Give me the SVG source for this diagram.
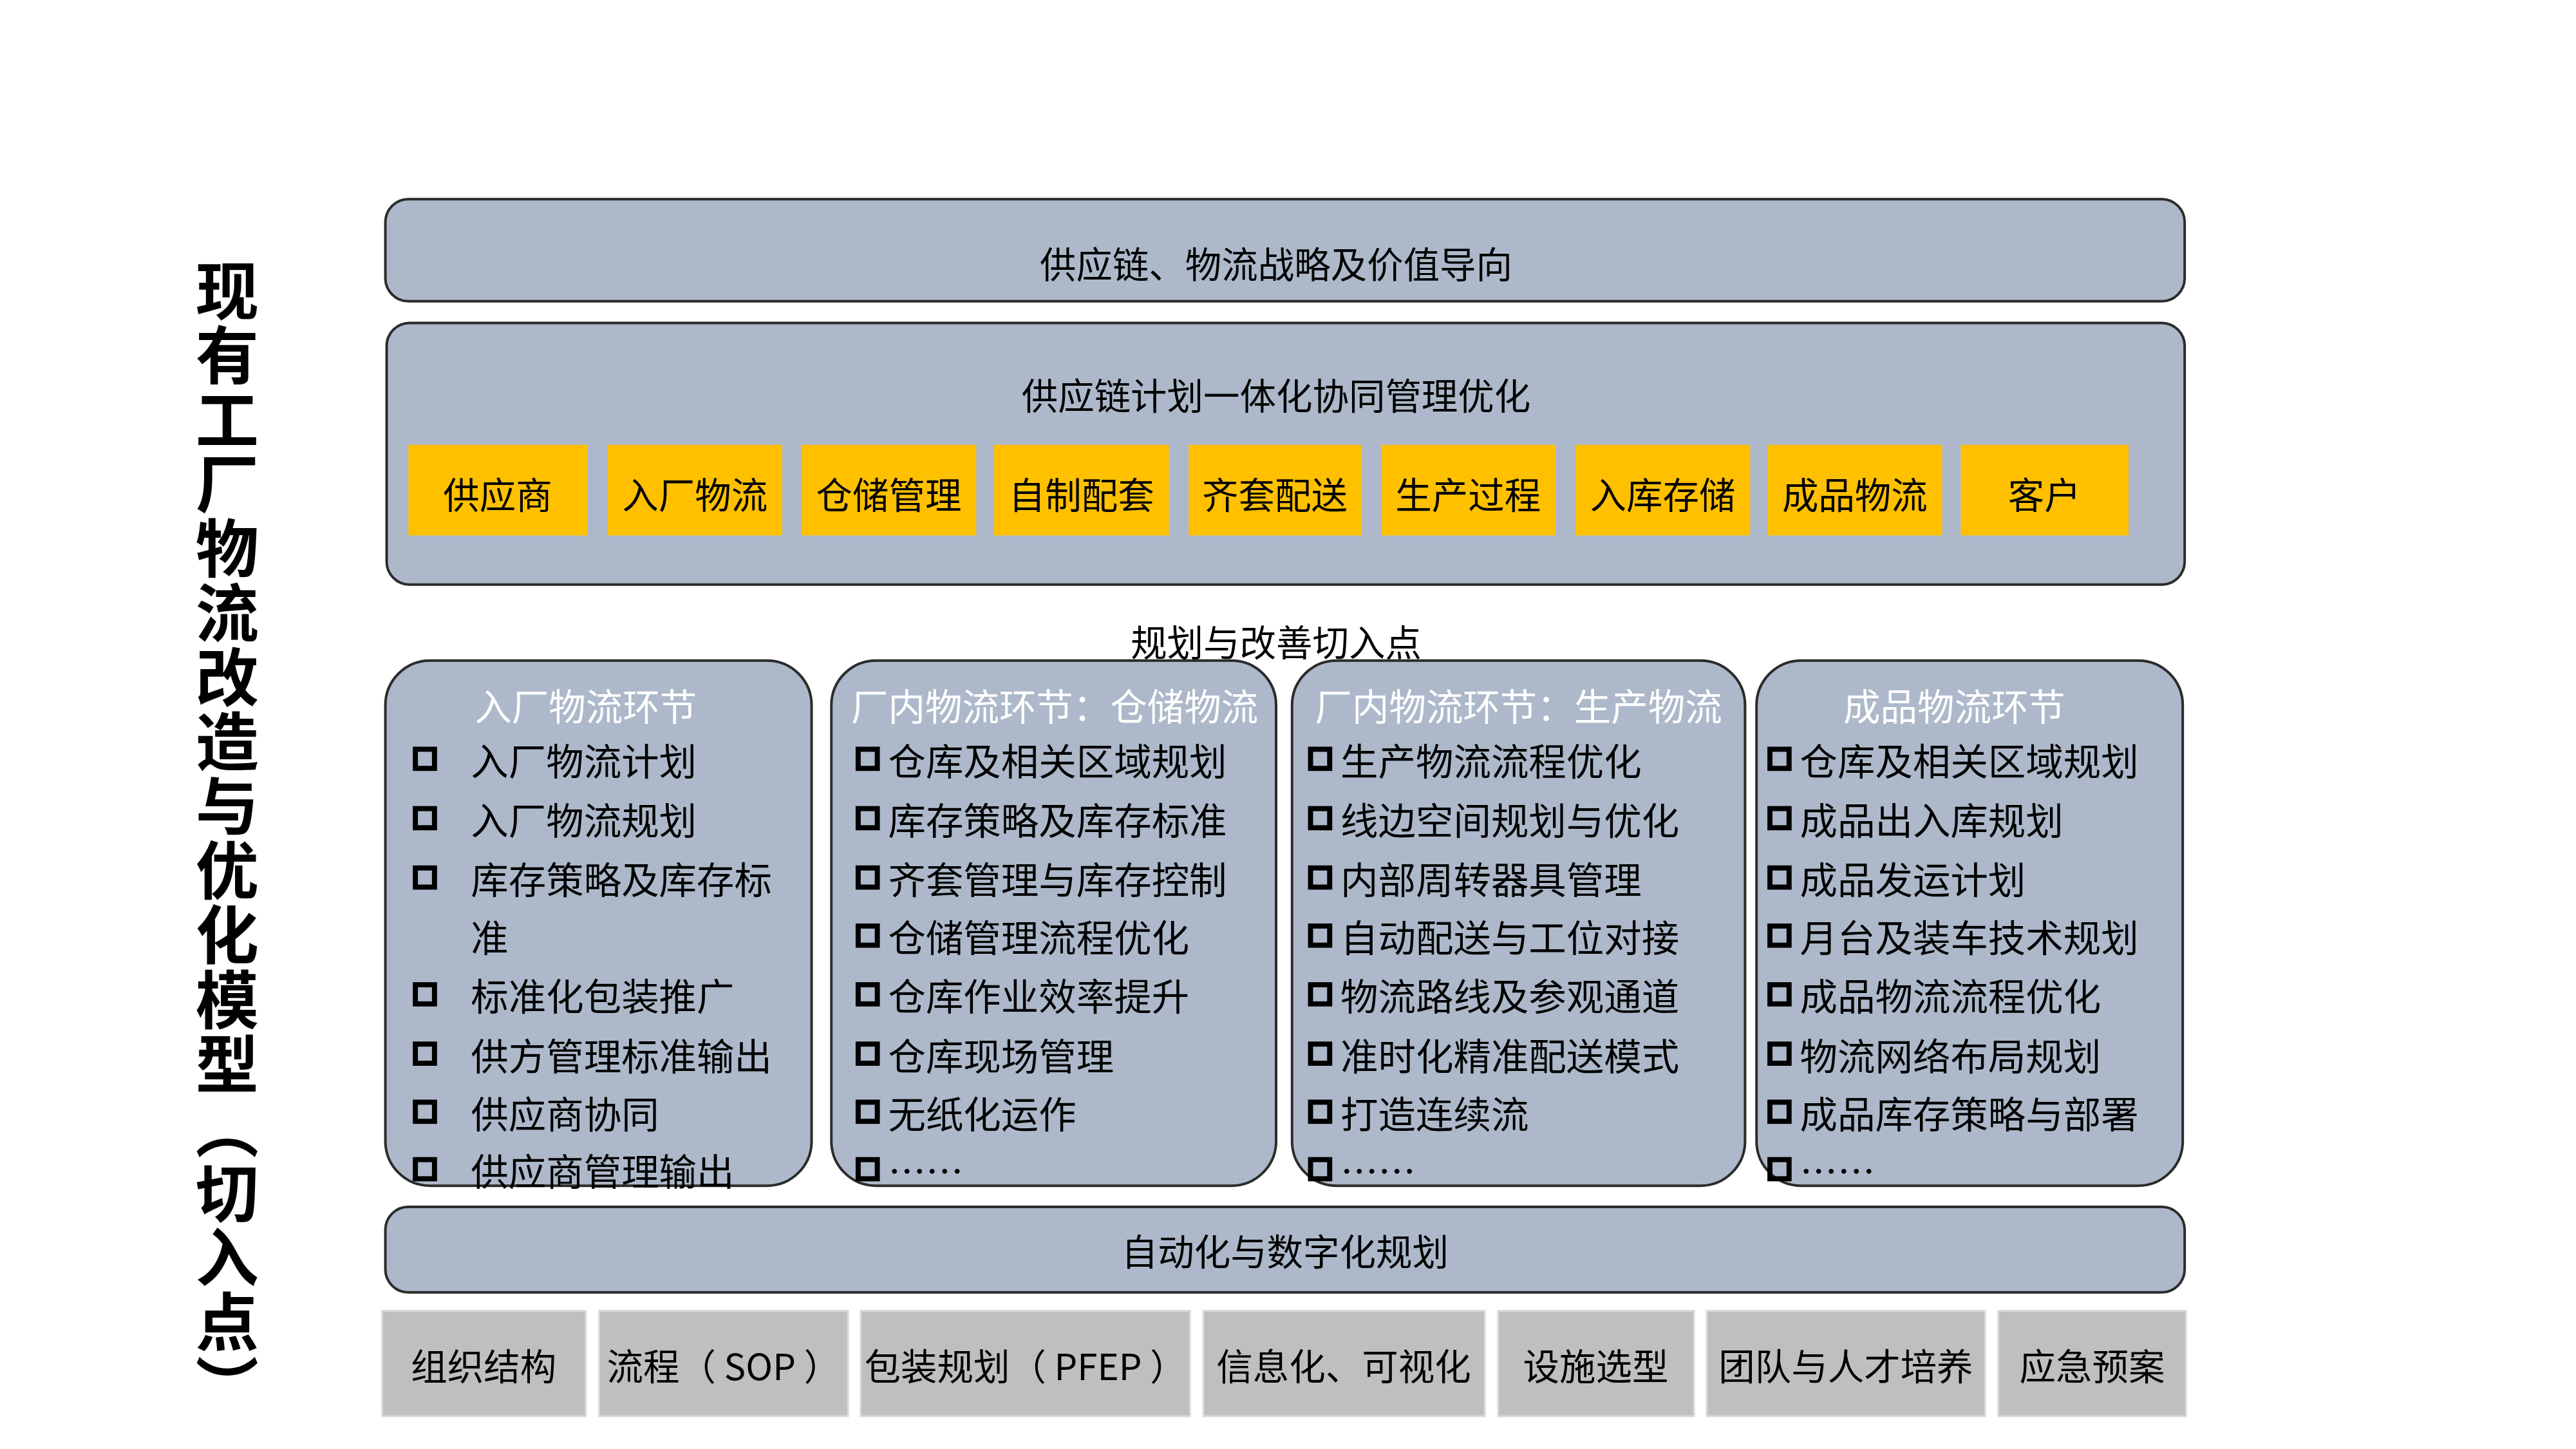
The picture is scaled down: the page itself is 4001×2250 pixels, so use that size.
<svg xmlns="http://www.w3.org/2000/svg" width="4001" height="2250" viewBox="0 0 4001 2250">
<style>
text{font-family:"Noto Sans CJK SC","Liberation Sans",sans-serif}
.p{fill:#adb9ca;stroke:#2b2b2b;stroke-width:4}
.y{fill:#ffc000}
.g{fill:#bfbfbf;stroke:#d9d9d9;stroke-width:3}
.t{font-size:57px;fill:#000;text-anchor:middle;dominant-baseline:central}
.h{font-size:58px;fill:#fff;text-anchor:middle;dominant-baseline:central}
.i{font-size:59px;fill:#000;dominant-baseline:central}
.cb{fill:none;stroke:#000;stroke-width:8}
</style>
<rect width="4001" height="2250" fill="#fff"/>
<g transform="scale(0.991)">
<text x="356" y="405" style="font-size:99px;font-weight:bold;writing-mode:vertical-rl;letter-spacing:2px" fill="#000">现有工厂物流改造与优化模型（切入点）</text>
<g id="strategy"><rect class="p" x="604" y="312" width="2820" height="160" rx="36"/><text class="t" x="2000" y="411">供应链、物流战略及价值导向</text></g>
<g id="plan"><rect class="p" x="606" y="506" width="2818" height="410" rx="36"/><text class="t" x="2000" y="617">供应链计划一体化协同管理优化</text>
<g id="chain">
<rect class="y" x="640" y="697" width="281" height="142"/><text class="t" x="780" y="772">供应商</text>
<rect class="y" x="952" y="697" width="274" height="142"/><text class="t" x="1089" y="772">入厂物流</text>
<rect class="y" x="1256" y="697" width="274" height="142"/><text class="t" x="1393" y="772">仓储管理</text>
<rect class="y" x="1558" y="697" width="274" height="142"/><text class="t" x="1695" y="772">自制配套</text>
<rect class="y" x="1863" y="697" width="271" height="142"/><text class="t" x="1998" y="772">齐套配送</text>
<rect class="y" x="2165" y="697" width="273" height="142"/><text class="t" x="2301" y="772">生产过程</text>
<rect class="y" x="2469" y="697" width="274" height="142"/><text class="t" x="2606" y="772">入库存储</text>
<rect class="y" x="2771" y="697" width="273" height="142"/><text class="t" x="2907" y="772">成品物流</text>
<rect class="y" x="3073" y="697" width="263" height="142"/><text class="t" x="3204" y="772">客户</text>
</g></g>
<text class="t" x="2000" y="1003">规划与改善切入点</text>
<g id="col1"><rect class="p" x="604" y="1035" width="668" height="823" rx="70"/>
<text class="h" x="918" y="1104">入厂物流环节</text>
<g class="cb"><rect x="651" y="1174" width="30" height="30"/><rect x="651" y="1267" width="30" height="30"/><rect x="651" y="1360" width="30" height="30"/><rect x="651" y="1543" width="30" height="30"/><rect x="651" y="1636" width="30" height="30"/><rect x="651" y="1727" width="30" height="30"/><rect x="651" y="1817" width="30" height="30"/></g>
<text class="i" x="738" y="1189">入厂物流计划</text><text class="i" x="738" y="1282">入厂物流规划</text><text class="i" x="738" y="1375">库存策略及库存标</text><text class="i" x="738" y="1466">准</text><text class="i" x="738" y="1558">标准化包装推广</text><text class="i" x="738" y="1651">供方管理标准输出</text><text class="i" x="738" y="1742">供应商协同</text><text class="i" x="738" y="1832">供应商管理输出</text>
</g>
<g id="col2"><rect class="p" x="1303" y="1035" width="697" height="823" rx="70"/>
<text class="h" x="1653" y="1104">厂内物流环节：仓储物流</text>
<g class="cb"><rect x="1345" y="1174" width="30" height="30"/><rect x="1345" y="1267" width="30" height="30"/><rect x="1345" y="1360" width="30" height="30"/><rect x="1345" y="1451" width="30" height="30"/><rect x="1345" y="1543" width="30" height="30"/><rect x="1345" y="1636" width="30" height="30"/><rect x="1345" y="1727" width="30" height="30"/><rect x="1345" y="1817" width="30" height="30"/></g>
<text class="i" x="1392" y="1189">仓库及相关区域规划</text><text class="i" x="1392" y="1282">库存策略及库存标准</text><text class="i" x="1392" y="1375">齐套管理与库存控制</text><text class="i" x="1392" y="1466">仓储管理流程优化</text><text class="i" x="1392" y="1558">仓库作业效率提升</text><text class="i" x="1392" y="1651">仓库现场管理</text><text class="i" x="1392" y="1742">无纸化运作</text><text class="i" x="1392" y="1832">……</text>
</g>
<g id="col3"><rect class="p" x="2025" y="1035" width="710" height="823" rx="70"/>
<text class="h" x="2380" y="1104">厂内物流环节：生产物流</text>
<g class="cb"><rect x="2054" y="1174" width="30" height="30"/><rect x="2054" y="1267" width="30" height="30"/><rect x="2054" y="1360" width="30" height="30"/><rect x="2054" y="1451" width="30" height="30"/><rect x="2054" y="1543" width="30" height="30"/><rect x="2054" y="1636" width="30" height="30"/><rect x="2054" y="1727" width="30" height="30"/><rect x="2054" y="1817" width="30" height="30"/></g>
<text class="i" x="2101" y="1189">生产物流流程优化</text><text class="i" x="2101" y="1282">线边空间规划与优化</text><text class="i" x="2101" y="1375">内部周转器具管理</text><text class="i" x="2101" y="1466">自动配送与工位对接</text><text class="i" x="2101" y="1558">物流路线及参观通道</text><text class="i" x="2101" y="1651">准时化精准配送模式</text><text class="i" x="2101" y="1742">打造连续流</text><text class="i" x="2101" y="1832">……</text>
</g>
<g id="col4"><rect class="p" x="2753" y="1035" width="668" height="823" rx="70"/>
<text class="h" x="3063" y="1104">成品物流环节</text>
<g class="cb"><rect x="2774" y="1174" width="30" height="30"/><rect x="2774" y="1267" width="30" height="30"/><rect x="2774" y="1360" width="30" height="30"/><rect x="2774" y="1451" width="30" height="30"/><rect x="2774" y="1543" width="30" height="30"/><rect x="2774" y="1636" width="30" height="30"/><rect x="2774" y="1727" width="30" height="30"/><rect x="2774" y="1817" width="30" height="30"/></g>
<text class="i" x="2821" y="1189">仓库及相关区域规划</text><text class="i" x="2821" y="1282">成品出入库规划</text><text class="i" x="2821" y="1375">成品发运计划</text><text class="i" x="2821" y="1466">月台及装车技术规划</text><text class="i" x="2821" y="1558">成品物流流程优化</text><text class="i" x="2821" y="1651">物流网络布局规划</text><text class="i" x="2821" y="1742">成品库存策略与部署</text><text class="i" x="2821" y="1832">……</text>
</g>
<g id="auto"><rect class="p" x="604" y="1891" width="2820" height="134" rx="36"/><text class="t" x="2014" y="1958">自动化与数字化规划</text></g>
<g id="base">
<rect class="g" x="599" y="2054" width="319" height="165"/><text class="t" x="758" y="2137">组织结构</text>
<rect class="g" x="939" y="2054" width="390" height="165"/><text class="t" x="1134" y="2137">流程（ SOP ）</text>
<rect class="g" x="1349" y="2054" width="516" height="165"/><text class="t" x="1607" y="2137">包装规划（ PFEP ）</text>
<rect class="g" x="1886" y="2054" width="441" height="165"/><text class="t" x="2106" y="2137">信息化、可视化</text>
<rect class="g" x="2348" y="2054" width="307" height="165"/><text class="t" x="2501" y="2137">设施选型</text>
<rect class="g" x="2675" y="2054" width="436" height="165"/><text class="t" x="2893" y="2137">团队与人才培养</text>
<rect class="g" x="3132" y="2054" width="294" height="165"/><text class="t" x="3279" y="2137">应急预案</text>
</g>
</g>
</svg>
